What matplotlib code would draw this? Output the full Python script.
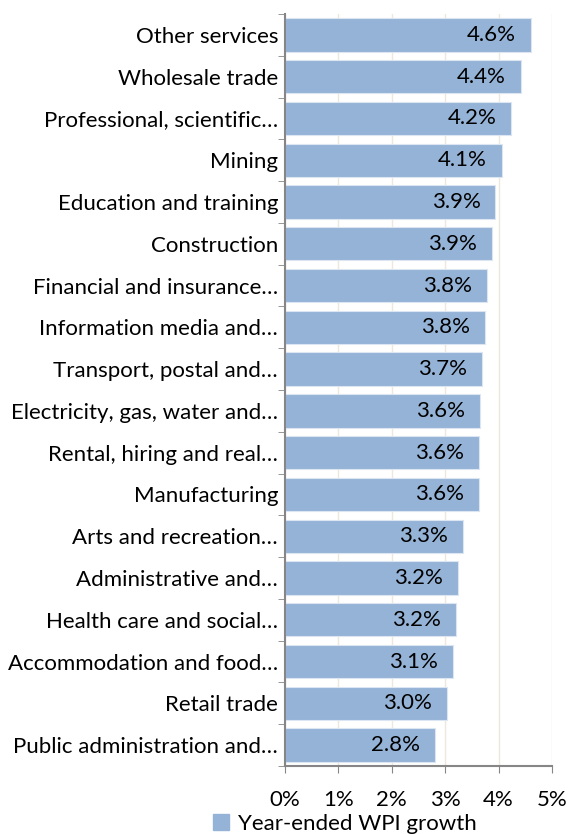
import numpy as np
import matplotlib.pyplot as plt
from matplotlib.patches import Patch

plt.rcParams['font.family'] = ['Lato', 'DejaVu Sans']

industries = ['Other services', 'Wholesale trade', 'Professional, scientific\u2026', 'Mining',
              'Education and training', 'Construction', 'Financial and insurance\u2026',
              'Information media and\u2026', 'Transport, postal and\u2026',
              'Electricity, gas, water and\u2026', 'Rental, hiring and real\u2026',
              'Manufacturing', 'Arts and recreation\u2026', 'Administrative and\u2026',
              'Health care and social\u2026', 'Accommodation and food\u2026', 'Retail trade',
              'Public administration and\u2026']
growth = [4.61, 4.42, 4.24, 4.06, 3.94, 3.88, 3.78, 3.75, 3.69, 3.65, 3.63, 3.63,
          3.33, 3.24, 3.20, 3.14, 3.03, 2.81]
xticks = [0, 1, 2, 3, 4, 5]

bar_col = '#95b3d7'
edge_col = '#dce6f2'
axis_col = '#868686'
fs = 16

fig = plt.figure(figsize=(5.69, 8.34), dpi=100)
ax = fig.add_axes([285/569, 1-766/834, 267/569, 752/834])

y = np.arange(len(industries))
ax.barh(y, growth, height=0.8, color=bar_col, edgecolor=edge_col, linewidth=0.8, zorder=2)
for yi, v in zip(y, growth):
    ax.text(v - 0.28, yi, '%.1f%%' % v, ha='right', va='center', fontsize=fs, color='black', zorder=3)

ax.set_ylim(len(industries) - 0.5, -0.5)
ax.set_xlim(0, 5)
ax.set_xticks(xticks)
ax.set_xticklabels(['%d%%' % t for t in xticks], fontsize=fs)
ax.set_yticks(y)
ax.set_yticklabels(industries, fontsize=fs)
ax.set_yticks(np.arange(-0.5, len(industries)), minor=True)
ax.tick_params(axis='y', which='major', length=0, pad=5)
ax.tick_params(axis='y', which='minor', length=5, color=axis_col, direction='out')
ax.tick_params(axis='x', length=5, color=axis_col, direction='out', pad=12)
ax.grid(axis='x', color='#ece9dc', linewidth=1, zorder=0)
for s in ['top', 'right']:
    ax.spines[s].set_visible(False)
ax.spines['left'].set_color(axis_col)
ax.spines['bottom'].set_color(axis_col)
ax.spines['left'].set_linewidth(1.5)
ax.spines['bottom'].set_linewidth(1.5)

fig.legend(handles=[Patch(color=bar_col, label='Year-ended WPI growth')],
           loc='center', bbox_to_anchor=(345/569, 1-824/834), frameon=False,
           fontsize=fs, handlelength=0.7, handleheight=0.7, handletextpad=0.4)

fig.savefig('out.png', dpi=100)
